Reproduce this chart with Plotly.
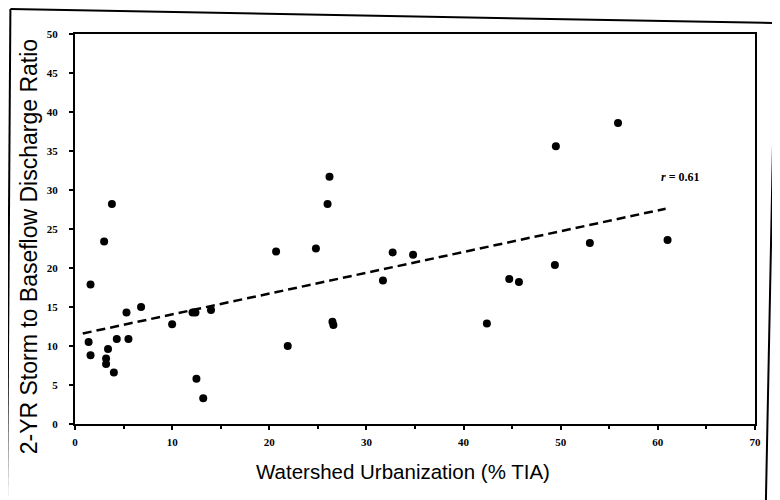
import plotly.graph_objects as go

# Data
tia_pct = [1.4, 1.6, 1.6, 3.0, 3.8, 3.4, 3.2, 3.2, 4.0, 4.3, 5.3, 5.5, 6.8,
           10.0, 12.1, 12.4, 12.5, 13.2, 14.0,
           20.7, 21.9, 24.8, 26.0, 26.2, 26.5, 26.6, 31.7, 32.7, 34.8,
           42.4, 44.7, 45.7, 49.4, 49.5, 53.0, 55.9, 61.0]
ratio = [10.5, 17.9, 8.8, 23.4, 28.2, 9.6, 8.4, 7.7, 6.6, 10.9, 14.3, 10.9, 15.0,
         12.8, 14.3, 14.3, 5.8, 3.3, 14.6,
         22.1, 10.0, 22.5, 28.2, 31.7, 13.1, 12.7, 18.4, 22.0, 21.7,
         12.9, 18.6, 18.2, 20.4, 35.6, 23.2, 38.6, 23.6]

fit_x = [0.8, 60.8]
fit_y = [11.6, 27.6]

x_ticks = [0, 10, 20, 30, 40, 50, 60, 70]
y_ticks = [0, 5, 10, 15, 20, 25, 30, 35, 40, 45, 50]

fig = go.Figure()
fig.add_trace(go.Scatter(x=fit_x, y=fit_y, mode="lines",
                         line=dict(color="black", width=2.5, dash="9px,5px"),
                         showlegend=False, hoverinfo="skip"))
fig.add_trace(go.Scatter(x=tia_pct, y=ratio, mode="markers",
                         marker=dict(color="black", size=8),
                         showlegend=False))

tickfont = dict(family="Liberation Serif", size=11, color="black")

fig.update_xaxes(range=[0, 70], tickvals=x_ticks, ticktext=[f"<b>{v}</b>" for v in x_ticks],
                 showgrid=False, zeroline=False, showline=True, linecolor="black",
                 linewidth=2, mirror=True, ticks="outside", ticklen=4, tickwidth=1.5,
                 tickcolor="black", tickfont=tickfont, ticklabelstandoff=3,
                 minor=dict(tickvals=[5, 15, 25, 35, 45, 55, 65], ticks="outside",
                            ticklen=3, tickwidth=1.5, tickcolor="black"))
fig.update_yaxes(range=[0, 50], tickvals=y_ticks, ticktext=[f"<b>{v}</b>" for v in y_ticks],
                 showgrid=False, zeroline=False, showline=True, linecolor="black",
                 linewidth=2, mirror=True, ticks="outside", ticklen=4, tickwidth=1.5,
                 tickcolor="black", tickfont=tickfont, ticklabelstandoff=9)

fig.add_annotation(x=62.3, y=31.7, xref="x", yref="y", showarrow=False,
                   text="<b><i>r</i> = 0.61</b>",
                   font=dict(family="Liberation Serif", size=12, color="black"))
fig.add_annotation(x=0.483, y=-0.121, xref="paper", yref="paper", showarrow=False,
                   text="Watershed Urbanization (% TIA)", yanchor="middle",
                   font=dict(family="Liberation Sans", size=20.5, color="black"))
fig.add_annotation(x=-0.068, y=0.455, xref="paper", yref="paper", showarrow=False,
                   text="2-YR Storm to Baseflow Discharge Ratio", textangle=-90,
                   xanchor="center", yanchor="middle",
                   font=dict(family="Liberation Sans", size=23, color="black"))

# Outer page border
fig.add_shape(type="line", xref="paper", yref="paper", x0=-0.095, x1=1.03, y0=1.064, y1=1.028,
              line=dict(color="black", width=2))
fig.add_shape(type="line", xref="paper", yref="paper", x0=-0.095, x1=-0.1, y0=1.064, y1=-0.2,
              line=dict(color="black", width=2))
fig.add_shape(type="line", xref="paper", yref="paper", x0=1.03, x1=1.016, y0=1.028, y1=-0.2,
              line=dict(color="black", width=2))

fig.update_layout(width=780, height=500, margin=dict(l=67, r=33, t=26, b=84),
                  paper_bgcolor="white", plot_bgcolor="white")

fig.write_html("out.html")
